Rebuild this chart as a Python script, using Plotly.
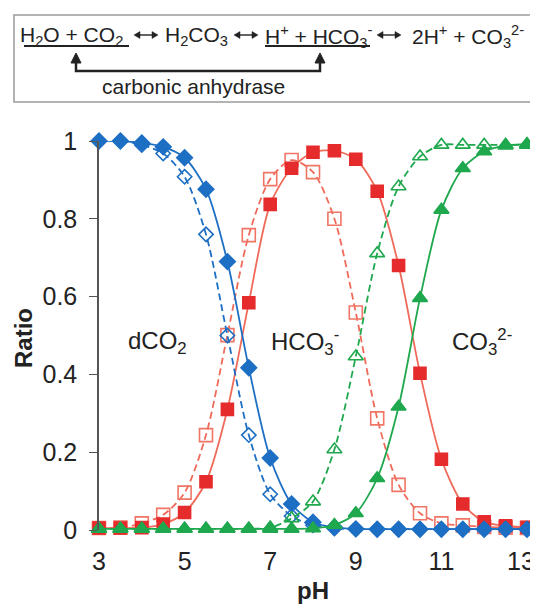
import plotly.graph_objects as go

pH = [3, 3.5, 4, 4.5, 5, 5.5, 6, 6.5, 7, 7.5, 8, 8.5, 9, 9.5, 10, 10.5, 11, 11.5, 12, 12.5, 13]

dco2_solid = [1.0, 1.0, 0.995, 0.985, 0.957, 0.876, 0.69, 0.417, 0.185, 0.067, 0.02, 0.007, 0.003, 0.002, 0.002, 0.002, 0.002, 0.002, 0.002, 0.002, 0.002]
dco2_dash = [1.0, 1.0, 0.99, 0.968, 0.908, 0.76, 0.5, 0.244, 0.092, 0.036, 0.012, 0.004, 0.002, 0.002, 0.002, 0.002, 0.002, 0.002, 0.002, 0.002, 0.002]
hco3_solid = [0.005, 0.005, 0.006, 0.015, 0.045, 0.124, 0.31, 0.584, 0.837, 0.93, 0.971, 0.975, 0.953, 0.871, 0.68, 0.403, 0.182, 0.067, 0.021, 0.011, 0.007]
hco3_dash = [0.005, 0.006, 0.017, 0.039, 0.096, 0.244, 0.501, 0.758, 0.902, 0.951, 0.92, 0.8, 0.559, 0.287, 0.116, 0.043, 0.017, 0.012, 0.008, 0.006, 0.005]
co3_solid = [0.003, 0.003, 0.003, 0.003, 0.003, 0.003, 0.003, 0.003, 0.003, 0.003, 0.004, 0.013, 0.043, 0.133, 0.317, 0.596, 0.823, 0.93, 0.973, 0.988, 0.992]
co3_dash = [0.003, 0.003, 0.003, 0.003, 0.003, 0.003, 0.003, 0.003, 0.006, 0.03, 0.073, 0.207, 0.446, 0.711, 0.883, 0.96, 0.99, 0.99, 0.99, 0.99, 0.99]

x_ticks = [3, 5, 7, 9, 11, 13]
x_tick_text = ["3", "5", "7", "9", "11", ""]
last_x_label = "13"  # drawn as a label pulled slightly inward so it is not clipped
y_ticks = [0, 0.2, 0.4, 0.6, 0.8, 1]
y_tick_text = ["0", "0.2", "0.4", "0.6", "0.8", "1"]

BLUE = "#1d6fc4"
RED = "#e52b2b"
RED_LINE = "#f06a5a"
RED_OPEN = "#f07565"
GREEN = "#1fa84e"
INK = "#222222"
FONT = "Liberation Sans, Arial, sans-serif"

# page has an 8px body margin; target screenshot pixel positions
OFF = 8
W, H = 538 - OFF, 605 - OFF
L, R, T, B = 99, 527, 141, 530  # plot area in screenshot pixels


def fx(px):
    return (px - L) / (R - L)


def fy(py):
    return (B - py) / (B - T)


fig = go.Figure()


def add(y, color, lcolor, dash, symbol, size):
    fig.add_trace(go.Scatter(
        x=pH, y=y, mode="lines+markers", cliponaxis=False,
        line=dict(color=lcolor, width=1.8, dash=dash, shape="spline", smoothing=0.8),
        marker=dict(symbol=symbol, size=size, color=color,
                    line=dict(color=color, width=1.6)),
        showlegend=False,
    ))


add(hco3_dash, RED_OPEN, RED_LINE, "7px,4px", "square-open", 13)
add(hco3_solid, RED, RED_LINE, "solid", "square", 12)
add(dco2_dash, BLUE, BLUE, "7px,4px", "diamond-open", 11)
add(dco2_solid, BLUE, BLUE, "solid", "diamond", 12)
add(co3_dash, GREEN, GREEN, "7px,4px", "triangle-up-open", 13)
add(co3_solid, GREEN, GREEN, "solid", "triangle-up", 13)

shapes = []
# box around reaction
shapes.append(dict(type="rect", xref="paper", yref="paper",
                   x0=fx(14), x1=fx(548), y0=fy(102), y1=fy(15),
                   line=dict(color="#9a9a9a", width=1.5), fillcolor="rgba(0,0,0,0)"))
# underlines
for a, b in [(24, 129), (265, 370)]:
    shapes.append(dict(type="line", xref="paper", yref="paper",
                       x0=fx(a), x1=fx(b), y0=fy(46), y1=fy(46),
                       line=dict(color=INK, width=2)))
# double-headed reaction arrows
for a, b in [(134, 158), (234, 258), (377, 401)]:
    yc = 35
    shapes.append(dict(type="line", xref="paper", yref="paper",
                       x0=fx(a + 3), x1=fx(b - 3), y0=fy(yc), y1=fy(yc),
                       line=dict(color=INK, width=1.4)))
    shapes.append(dict(type="path", xref="paper", yref="paper",
                       path=f"M {fx(a)},{fy(yc)} L {fx(a+6)},{fy(yc-3.5)} L {fx(a+6)},{fy(yc+3.5)} Z",
                       fillcolor=INK, line=dict(color=INK, width=0.5)))
    shapes.append(dict(type="path", xref="paper", yref="paper",
                       path=f"M {fx(b)},{fy(yc)} L {fx(b-6)},{fy(yc-3.5)} L {fx(b-6)},{fy(yc+3.5)} Z",
                       fillcolor=INK, line=dict(color=INK, width=0.5)))
# bracket arrow for carbonic anhydrase
shapes.append(dict(type="path", xref="paper", yref="paper",
                   path=f"M {fx(76)},{fy(60)} L {fx(76)},{fy(71)} L {fx(320)},{fy(71)} L {fx(320)},{fy(60)}",
                   line=dict(color=INK, width=2.5)))
for ax in [76, 320]:
    shapes.append(dict(type="path", xref="paper", yref="paper",
                       path=f"M {fx(ax-5)},{fy(63)} L {fx(ax)},{fy(53)} L {fx(ax+5)},{fy(63)} Z",
                       fillcolor=INK, line=dict(color=INK, width=1)))
fig.update_layout(shapes=shapes)

EQ = 21


def ann(text, x, y, size, anchor="left", angle=0):
    return dict(text=text, x=fx(x), y=fy(y), xanchor=anchor, yanchor="middle",
                xref="paper", yref="paper", showarrow=False, textangle=angle,
                font=dict(size=size, color=INK, family=FONT))


annotations = [
    ann("H<sub>2</sub>O + CO<sub>2</sub>", 18, 36, EQ),
    ann("H<sub>2</sub>CO<sub>3</sub>", 163, 36, EQ),
    ann("H<sup>+</sup> + HCO<sub>3</sub><sup>-</sup>", 263, 36, EQ),
    ann("2H<sup>+</sup> + CO<sub>3</sub><sup>2-</sup>", 410, 36, EQ),
    ann("carbonic anhydrase", 193, 87, EQ, "center"),
    ann("dCO<sub>2</sub>", 157, 342, 24, "center"),
    ann("HCO<sub>3</sub><sup>-</sup>", 305, 342, 24, "center"),
    ann("CO<sub>3</sub><sup>2-</sup>", 482, 342, 24, "center"),
    ann("<b>pH</b>", 313, 590, 24, "center"),
    ann("<b>Ratio</b>", 23, 338, 24, "center", -90),
    ann(last_x_label, 521, 561, 25, "center"),
]

fig.update_layout(
    annotations=annotations,
    width=W, height=H,
    margin=dict(l=L - OFF, r=W - (R - OFF), t=T - OFF, b=H - (B - OFF), pad=0, autoexpand=False),
    paper_bgcolor="white", plot_bgcolor="white",
    font=dict(family=FONT, color=INK),
    xaxis=dict(range=[3, 13], tickvals=x_ticks, ticktext=x_tick_text, ticks="", showgrid=False,
               zeroline=False, showline=False, tickfont=dict(size=25, color=INK),
               ticklabelstandoff=14, ticklabeloverflow="allow", automargin=False),
    yaxis=dict(range=[0, 1], tickvals=y_ticks, ticktext=y_tick_text, ticks="outside", ticklen=8,
               tickcolor="#555", tickwidth=1.2, showgrid=False, zeroline=False,
               showline=True, linecolor="#555", linewidth=1.5, automargin=False,
               tickfont=dict(size=25, color=INK), ticklabelstandoff=7),
)

fig.write_html("out.html")
